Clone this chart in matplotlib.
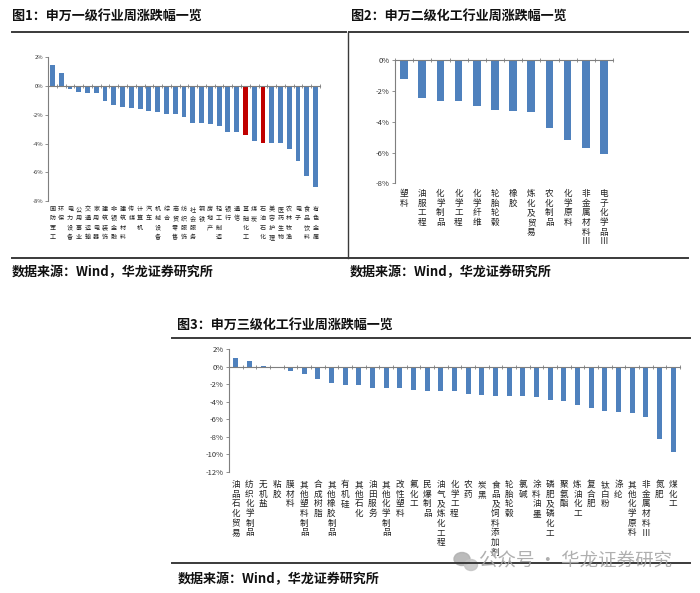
import matplotlib
matplotlib.use("Agg")
import matplotlib.pyplot as plt
import numpy as np
from matplotlib.lines import Line2D
from matplotlib.ticker import FuncFormatter, FixedLocator
from matplotlib.patches import Ellipse
import matplotlib.transforms as mtransforms

plt.rcParams['font.family'] = ['Noto Sans CJK SC', 'DejaVu Sans']
plt.rcParams['axes.unicode_minus'] = False

# ---------------- data ----------------
title1 = "图1：申万一级行业周涨跌幅一览"
title2 = "图2：申万二级化工行业周涨跌幅一览"
title3 = "图3：申万三级化工行业周涨跌幅一览"
source_text = "数据来源：Wind，华龙证券研究所"
watermark = "公众号 · 华龙证券研究"

sw1_names = ["国防军工", "环保", "电力设备", "公用事业", "交通运输", "家用电器",
             "建筑装饰", "非银金融", "建筑材料", "传媒", "计算机", "汽车",
             "机械设备", "综合", "商贸零售", "纺织服饰", "社会服务", "钢铁",
             "房地产", "轻工制造", "银行", "通信", "基础化工", "煤炭",
             "石油石化", "美容护理", "医药生物", "农林牧渔", "电子",
             "食品饮料", "有色金属"]
sw1_values = [1.47, 0.88, -0.23, -0.42, -0.51, -0.51, -1.05, -1.35, -1.47,
              -1.56, -1.63, -1.77, -1.81, -1.98, -1.98, -2.14, -2.58, -2.60,
              -2.65, -2.79, -3.19, -3.21, -3.42, -3.84, -3.93, -3.98, -3.98,
              -4.40, -5.23, -6.28, -7.00]
sw1_highlight = ["基础化工", "石油石化"]

sw2_names = ["塑料", "油服工程", "化学制品", "化学工程", "化学纤维", "轮胎轮毂",
             "橡胶", "炼化及贸易", "农化制品", "化学原料", "非金属材料Ⅲ",
             "电子化学品Ⅲ"]
sw2_values = [-1.24, -2.48, -2.65, -2.65, -2.96, -3.26, -3.33, -3.39, -4.39,
              -5.17, -5.70, -6.11]

sw3_names = ["油品石化贸易", "纺织化学制品", "无机盐", "粘胶", "膜材料",
             "其他塑料制品", "合成树脂", "其他橡胶制品", "有机硅", "其他石化",
             "油田服务", "其他化学制品", "改性塑料", "氟化工", "民爆制品",
             "油气及炼化工程", "化学工程", "农药", "炭黑", "食品及饲料添加剂",
             "轮胎轮毂", "氯碱", "涂料油墨", "磷肥及磷化工", "聚氨酯",
             "炼油化工", "复合肥", "钛白粉", "涤纶", "其他化学原料",
             "非金属材料Ⅲ", "氮肥", "煤化工"]
sw3_values = [1.06, 0.64, 0.08, 0.02, -0.45, -0.87, -1.43, -1.85, -2.04,
              -2.11, -2.45, -2.45, -2.45, -2.60, -2.72, -2.79, -2.79, -3.13,
              -3.20, -3.28, -3.36, -3.36, -3.43, -3.77, -3.89, -4.30, -4.75,
              -5.02, -5.17, -5.25, -5.77, -8.19, -9.77]

# ---------------- style ----------------
W, H = 700, 593
DPI = 100
BLUE = "#4F81BD"
RED = "#C00000"
AXC = "#7F7F7F"
RULE = "#3A3A3A"

fig = plt.figure(figsize=(W / DPI, H / DPI), dpi=DPI)
fig.patch.set_facecolor("white")


def rect(x0, y0, x1, y1):
    return [x0 / W, 1 - y1 / H, (x1 - x0) / W, (y1 - y0) / H]


def fx(x):
    return x / W


def fy(y):
    return 1 - y / H


def hline(x0, x1, y, lw=1.4, color=RULE):
    fig.add_artist(Line2D([fx(x0), fx(x1)], [fy(y), fy(y)], lw=lw, color=color,
                          transform=fig.transFigure))


def vline(x, y0, y1, lw=1.0, color=RULE):
    fig.add_artist(Line2D([fx(x), fx(x)], [fy(y0), fy(y1)], lw=lw, color=color,
                          transform=fig.transFigure))


def stack(s):
    return "\n".join(list(s))


def bar_chart(box, names, values, ylim, step, bar_w, tick_fs, lab_fs, lab_ls,
              lab_pad_px, colors, tick_len=2.5):
    ax = fig.add_axes(rect(*box))
    x = np.arange(len(names))
    ax.bar(x, values, width=bar_w, color=colors, zorder=2)
    ax.set_xlim(-0.5, len(names) - 0.5)
    ax.set_ylim(*ylim)
    ax.set_yticks(np.arange(ylim[0], ylim[1] + 0.01, step))
    ax.yaxis.set_major_formatter(FuncFormatter(lambda v, p: "%d%%" % round(v)))
    for s in ["top", "right"]:
        ax.spines[s].set_visible(False)
    ax.spines["left"].set_color(AXC)
    ax.spines["left"].set_linewidth(0.8)
    ax.spines["bottom"].set_position(("data", 0))
    ax.spines["bottom"].set_color(AXC)
    ax.spines["bottom"].set_linewidth(0.8)
    ax.tick_params(axis="y", length=tick_len, width=0.6, color=AXC,
                   labelsize=tick_fs, pad=1.5, labelcolor="#333333")
    ax.xaxis.set_major_locator(FixedLocator(np.arange(len(names) + 1) - 0.5))
    ax.tick_params(axis="x", direction="inout", length=tick_len * 1.2,
                   width=0.6, color=AXC, labelbottom=False)
    ax.patch.set_alpha(0)
    off = mtransforms.offset_copy(
        mtransforms.blended_transform_factory(ax.transData, ax.transAxes),
        fig=fig, x=0, y=-lab_pad_px * 72 / DPI, units="points")
    for xi, n in zip(x, names):
        ax.text(xi, 0, stack(n), transform=off, ha="center", va="top",
                fontsize=lab_fs, linespacing=lab_ls, color="#222222")
    return ax


# chart 1
colors1 = [RED if n in sw1_highlight else BLUE for n in sw1_names]
bar_chart((48, 57.3, 320, 201), sw1_names, sw1_values, (-8, 2), 2, 0.55,
          4.2, 4.4, 1.22, 4, colors1, tick_len=2)

# chart 2
bar_chart((395, 60.3, 613, 183.3), sw2_names, sw2_values, (-8, 0), 2, 0.42,
          5.5, 6.2, 1.08, 6, [BLUE] * len(sw2_names))

# chart 3
bar_chart((229, 349.3, 680, 472), sw3_names, sw3_values, (-12, 2), 2, 0.38,
          5.5, 6.2, 1.1, 8, [BLUE] * len(sw3_names))

# ---------------- frame lines & texts ----------------
hline(12, 346, 32)
hline(349, 688, 32)
vline(347.5, 32, 258)
hline(12, 688, 258, lw=1.4)
hline(172, 690, 338)
hline(172, 690, 563)

tkw = dict(fontsize=9.4, fontweight="bold", va="center", ha="left", color="#111111")
fig.text(fx(12), fy(16), title1, **tkw)
fig.text(fx(351), fy(16), title2, **tkw)
fig.text(fx(177), fy(325), title3, **tkw)
fig.text(fx(12), fy(272), source_text, **tkw)
fig.text(fx(350), fy(272), source_text, **tkw)
fig.text(fx(178), fy(579), source_text, **tkw)

# watermark
fig.text(fx(479), fy(562), watermark, fontsize=13.3, color="#A6A6A6",
         va="center", ha="left", alpha=0.9)
fig.add_artist(Ellipse((fx(462), fy(559)), 16 / W, 13 / H, color="#B0B0B0",
                       transform=fig.transFigure, alpha=0.85))
fig.add_artist(Ellipse((fx(471), fy(565)), 13 / W, 11 / H, color="#C4C4C4",
                       transform=fig.transFigure, alpha=0.85))

fig.savefig("out.png", dpi=DPI, facecolor="white")
